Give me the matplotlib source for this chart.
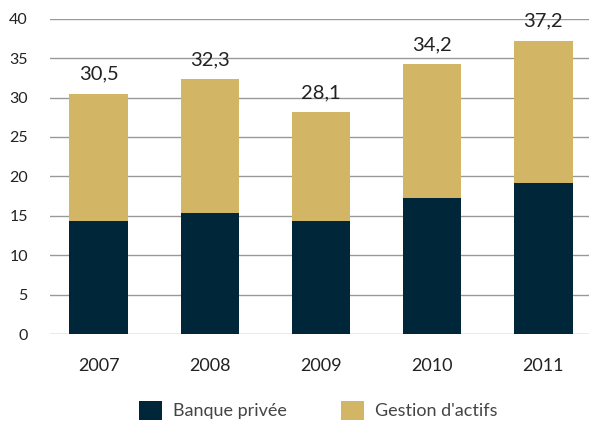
import matplotlib.pyplot as plt
import numpy as np

years = ['2007', '2008', '2009', '2010', '2011']
banque = [14.3, 15.4, 14.4, 17.3, 19.1]
gestion = [16.2, 16.9, 13.7, 16.9, 18.1]
totaux = ['30,5', '32,3', '28,1', '34,2', '37,2']

navy = '#00263A'
gold = '#D2B665'

plt.rcParams['font.family'] = ['Lato', 'DejaVu Sans']

fig = plt.figure(figsize=(5.89, 4.23), dpi=100)
ax = fig.add_axes([0.085, 0.21, 0.92, 0.746])

x = np.arange(len(years))
ax.bar(x, banque, width=0.53, color=navy, label='Banque privée', zorder=3)
ax.bar(x, gestion, width=0.53, bottom=banque, color=gold, label="Gestion d'actifs", zorder=3)

# valeurs totales au-dessus des barres
for i in range(len(years)):
    top = banque[i] + gestion[i]
    ax.annotate(totaux[i], (x[i], top), xytext=(0, 8), textcoords='offset points',
                ha='center', va='bottom', fontsize=14.5, color='#222222')

ax.set_ylim(0, 40)
ax.set_xlim(-0.44, 4.44)
ax.set_yticks(range(0, 41, 5))
ax.set_xticks(x)
ax.set_xticklabels(years)
ax.yaxis.grid(True, color='#999999', linewidth=1, zorder=0)
for s in ax.spines.values():
    s.set_visible(False)
ax.tick_params(axis='y', length=0, pad=16, labelsize=11.5, labelcolor='#222222')
ax.tick_params(axis='x', length=0, pad=17, labelsize=13, labelcolor='#222222')

fig.legend(loc='center', bbox_to_anchor=(0.54, 0.03), ncol=2, frameon=False,
           fontsize=13, handlelength=1.28, handleheight=1.28, handletextpad=0.6,
           columnspacing=3.0, labelcolor='#444444')

fig.savefig('out.png', dpi=100)
